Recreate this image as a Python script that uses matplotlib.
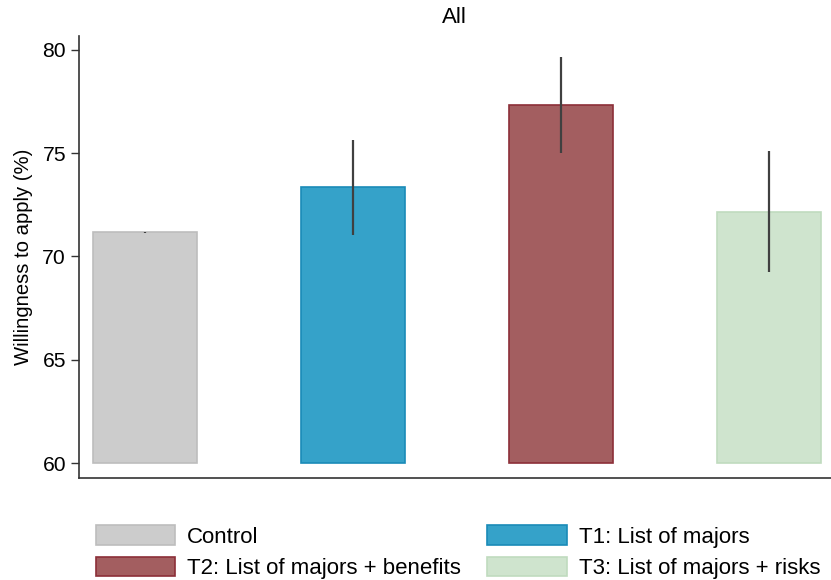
import matplotlib
matplotlib.use("Agg")
import matplotlib.pyplot as plt
from matplotlib.patches import Patch

plt.rcParams['font.family'] = ['Liberation Sans', 'DejaVu Sans']

# group means and 95% CI bounds
groups = ["Control", "T1: List of majors", "T2: List of majors + benefits",
          "T3: List of majors + risks"]
means = [71.17, 73.36, 77.33, 72.16]
ci_low = [71.15, 71.05, 75.02, 69.27]
ci_high = [71.20, 75.65, 79.66, 75.10]

fills = ["#cccccc", "#35a2c9", "#a35e60", "#cfe4ce"]
edges = ["#bdbdbd", "#1a8bb8", "#8c2f38", "#c0dbbf"]

BASE = 60

fig = plt.figure(figsize=(8.31, 5.80), dpi=100)
ax = fig.add_axes([0.0945, 0.1764, 0.9055, 0.7616])

xs = list(range(len(groups)))
heights = [m - BASE for m in means]
ax.bar(xs, heights, bottom=BASE, width=0.5, color=fills, edgecolor=edges,
       linewidth=1.2)
ax.vlines(xs, ci_low, ci_high, color="#404040", linewidth=1.6, zorder=3)

ax.set_xlim(-0.319, 3.297)
ax.set_ylim(59.30, 80.66)
ax.set_yticks([60, 65, 70, 75, 80])
ax.set_xticks([])
ax.tick_params(axis="y", labelsize=15.2, length=6, width=1.0, pad=3,
               color="#333333")
ax.set_ylabel("Willingness to apply (%)", fontsize=14.6, labelpad=7)
ax.set_title("All", fontsize=16, pad=9)

for side in ["top", "right"]:
    ax.spines[side].set_visible(False)
for side in ["left", "bottom"]:
    ax.spines[side].set_color("#333333")
    ax.spines[side].set_linewidth(1.2)

handles = [Patch(facecolor=f, edgecolor=e, linewidth=1.2)
           for f, e in zip(fills, edges)]
order = [0, 2, 1, 3]
fig.legend([handles[i] for i in order], [groups[i] for i in order],
           ncol=2, loc="upper left", bbox_to_anchor=(0.1155, 0.094),
           frameon=False, fontsize=16, borderpad=0, borderaxespad=0,
           handlelength=3.56, handleheight=0.95, handletextpad=0.55,
           columnspacing=1.18, labelspacing=0.42)

fig.savefig("out.png", dpi=100)
